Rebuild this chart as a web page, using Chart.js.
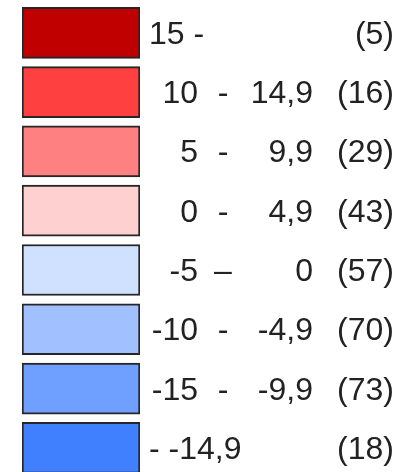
<!DOCTYPE html>
<html>
<head>
<meta charset="utf-8">
<script src="https://cdn.jsdelivr.net/npm/chart.js@4/dist/chart.umd.min.js"></script>
<style>
  html, body { margin: 0; padding: 0; background: #ffffff; overflow: hidden; }
  #wrap { width: 401px; height: 472px; overflow: hidden; }
  canvas { display: block; }
</style>
</head>
<body>
<div id="wrap"><canvas id="c" width="401" height="480"></canvas></div>
<script>
// ---- data ----
const categories = ['15 -', '10 - 14,9', '5 - 9,9', '0 - 4,9', '-5 – 0', '-10 - -4,9', '-15 - -9,9', '- -14,9'];
const rangeLow  = ['15', '10', '5', '0', '-5', '-10', '-15', ''];
const rangeSep  = ['-', '-', '-', '-', '–', '-', '-', '-'];
const rangeHigh = ['', '14,9', '9,9', '4,9', '0', '-4,9', '-9,9', '-14,9'];
const counts    = [5, 16, 29, 43, 57, 70, 73, 18];
const swatchSpan = [1, 1, 1, 1, 1, 1, 1, 1];
const colors = ['#C00000', '#FF4040', '#FF8080', '#FFD0D0', '#D0E0FF', '#A0C0FF', '#70A0FF', '#4080FF'];

const FONT = '32px "Liberation Sans", Arial, sans-serif';
const TEXT_COLOR = '#222222';

const labelPlugin = {
  id: 'rangeLabels',
  afterDatasetsDraw(chart) {
    const ctx = chart.ctx;
    const meta = chart.getDatasetMeta(0);
    ctx.save();
    ctx.font = FONT;
    ctx.fillStyle = TEXT_COLOR;
    ctx.textBaseline = 'alphabetic';
    meta.data.forEach((bar, i) => {
      const y = bar.y + 11;
      const left = bar.x + 9;
      if (rangeHigh[i] === '') {
        ctx.textAlign = 'left';
        ctx.fillText(rangeLow[i] + ' ' + rangeSep[i], left, y);
      } else if (rangeLow[i] === '') {
        ctx.textAlign = 'left';
        ctx.fillText(rangeSep[i] + ' ' + rangeHigh[i], left, y);
      } else {
        ctx.textAlign = 'right';
        ctx.fillText(rangeLow[i], bar.x + 58, y);
        ctx.textAlign = 'center';
        ctx.fillText(rangeSep[i], bar.x + 83, y);
        ctx.textAlign = 'right';
        ctx.fillText(rangeHigh[i], bar.x + 173, y);
      }
      ctx.textAlign = 'right';
      ctx.fillText('(' + counts[i] + ')', bar.x + 254, y);
    });
    ctx.restore();
  }
};

new Chart(document.getElementById('c'), {
  type: 'bar',
  data: {
    labels: categories,
    datasets: [{
      data: swatchSpan,
      backgroundColor: colors,
      borderColor: '#262626',
      borderWidth: 2,
      borderSkipped: false,
      barThickness: 51
    }]
  },
  options: {
    indexAxis: 'y',
    responsive: false,
    animation: false,
    layout: { padding: { left: 22, right: 261, top: 3.15, bottom: 2.5 } },
    scales: {
      x: { display: false, min: 0, max: 1 },
      y: { display: false, offset: true }
    },
    plugins: { legend: { display: false }, tooltip: { enabled: false } }
  },
  plugins: [labelPlugin]
});
</script>
</body>
</html>
